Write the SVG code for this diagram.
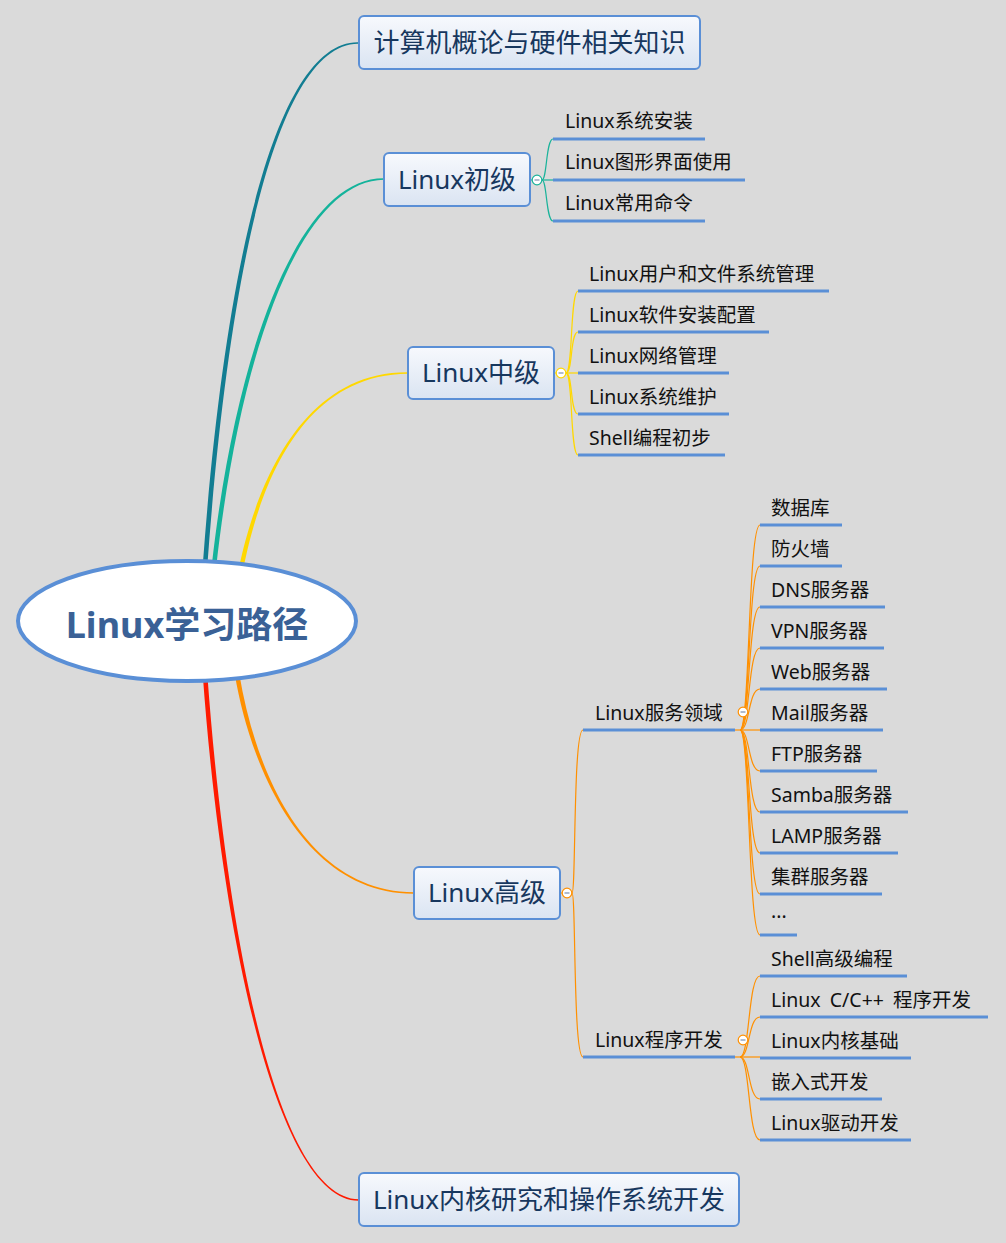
<svg xmlns="http://www.w3.org/2000/svg" width="1006" height="1243" viewBox="0 0 1006 1243">
<style>
.box{fill:url(#bg);stroke:#5a8fd6;stroke-width:2}
.bt{font-family:"Noto Sans","Noto Sans CJK SC",sans-serif;font-size:26px;fill:#17375e;text-anchor:middle}
.st{font-family:"Noto Sans","Noto Sans CJK SC",sans-serif;font-size:19.5px;fill:#111}
.ul{stroke:#5a8fd6;stroke-width:3;fill:none}
.c{fill:none;stroke-width:1.2}
.tl{stroke:#1ab39a}
.ye{stroke:#ffd800}
.or{stroke:#ff9000}
.tog{fill:#fff;stroke-width:1.2}
.mi{stroke:#7d8fae;stroke-width:1.2}
</style>
<defs>
<linearGradient id="bg" x1="0" y1="0" x2="0" y2="1">
<stop offset="0" stop-color="#f7f9fd"/>
<stop offset="1" stop-color="#dae4f2"/>
</linearGradient>
</defs>
<rect width="1006" height="1243" fill="#dadada"/>
<g id="connectors">
<path d="M202.7,566 C225.7,250 279,41.6 358,42.3 L358,43.7 C281,44.4 230.3,250 207.3,566 Z" fill="#127d92"/>
<path d="M211.7,566 C235.7,350 299,177.6 384,178.3 L384,179.7 C301,180.4 240.3,350 216.3,566 Z" fill="#14b39b"/>
<path d="M238.7,569 C253,500 295,371.6 408,372.3 L408,373.7 C295,374.4 257,500 243.3,569 Z" fill="#ffd800"/>
<path d="M234.7,674 C253,780 310,894.4 414,893.7 L414,892.3 C310,891.6 257,780 239.3,674 Z" fill="#ff9000"/>
<path d="M202.7,674 C222.7,950 280,1201.4 359,1200.7 L359,1199.3 C280,1198.6 227.3,950 207.3,674 Z" fill="#ff1a00"/>
<g class="c tl">
<path d="M530,180 H532"/>
<path d="M542,180 H553"/>
<path d="M542,180 C547,180 546,139 553,139"/>
<path d="M542,180 C547,180 546,221 553,221"/>
</g>
<g class="c ye">
<path d="M554,373 H556"/>
<path d="M566,373 H578"/>
<path d="M566,373 C573,373 570,291 578,291"/>
<path d="M566,373 C573,373 570,332 578,332"/>
<path d="M566,373 C573,373 570,414 578,414"/>
<path d="M566,373 C573,373 570,455 578,455"/>
</g>
<g class="c or">
<path d="M560,893 H562"/>
<path d="M572,893 C576,893 573,730 583,730"/>
<path d="M572,893 C576,893 573,1057 583,1057"/>
<path d="M735,730 H760"/>
<path d="M740,730 C750,730 748,525 760,525"/>
<path d="M740,730 C750,730 748,566 760,566"/>
<path d="M740,730 C750,730 748,607 760,607"/>
<path d="M740,730 C750,730 748,648 760,648"/>
<path d="M740,730 C750,730 748,689 760,689"/>
<path d="M740,730 C750,730 748,771 760,771"/>
<path d="M740,730 C750,730 748,812 760,812"/>
<path d="M740,730 C750,730 748,853 760,853"/>
<path d="M740,730 C750,730 748,894 760,894"/>
<path d="M740,730 C750,730 748,935 760,935"/>
<path d="M735,1057 H760"/>
<path d="M740,1057 C750,1057 748,976 760,976"/>
<path d="M740,1057 C750,1057 748,1017 760,1017"/>
<path d="M740,1057 C750,1057 748,1099 760,1099"/>
<path d="M740,1057 C750,1057 748,1140 760,1140"/>
</g>
</g>
<g id="root">
<ellipse cx="187" cy="621" rx="169" ry="60" fill="#fff" stroke="#5a8fd6" stroke-width="4"/>
<text x="187" y="638" text-anchor="middle" font-family="Noto Sans,Noto Sans CJK SC,sans-serif" font-size="36" font-weight="bold" fill="#3a6196">Linux学习路径</text>
</g>
<g id="n1">
<rect class="box" x="359" y="16" width="341" height="53" rx="5"/>
<text class="bt" x="529.5" y="52">计算机概论与硬件相关知识</text>
</g>
<g id="n2">
<rect class="box" x="384" y="153" width="146" height="53" rx="5"/>
<text class="bt" x="457" y="189">Linux初级</text>
<circle class="tog tl" cx="537" cy="180" r="4.8"/>
<line class="mi" x1="534.5" y1="180" x2="539.5" y2="180"/>
</g>
<g id="n2a"><text class="st" x="565" y="128">Linux系统安装</text><line class="ul" x1="553" y1="139" x2="705" y2="139"/></g>
<g id="n2b"><text class="st" x="565" y="169">Linux图形界面使用</text><line class="ul" x1="553" y1="180" x2="745" y2="180"/></g>
<g id="n2c"><text class="st" x="565" y="210">Linux常用命令</text><line class="ul" x1="553" y1="221" x2="705" y2="221"/></g>
<g id="n3">
<rect class="box" x="408" y="347" width="146" height="52" rx="5"/>
<text class="bt" x="481" y="382">Linux中级</text>
<circle class="tog ye" cx="561" cy="373" r="4.8"/>
<line class="mi" x1="558.5" y1="373" x2="563.5" y2="373"/>
</g>
<g id="n3a"><text class="st" x="589" y="281">Linux用户和文件系统管理</text><line class="ul" x1="578" y1="291" x2="829" y2="291"/></g>
<g id="n3b"><text class="st" x="589" y="322">Linux软件安装配置</text><line class="ul" x1="578" y1="332" x2="769" y2="332"/></g>
<g id="n3c"><text class="st" x="589" y="363">Linux网络管理</text><line class="ul" x1="578" y1="373" x2="729" y2="373"/></g>
<g id="n3d"><text class="st" x="589" y="404">Linux系统维护</text><line class="ul" x1="578" y1="414" x2="729" y2="414"/></g>
<g id="n3e"><text class="st" x="589" y="445">Shell编程初步</text><line class="ul" x1="578" y1="455" x2="725" y2="455"/></g>
<g id="n4">
<rect class="box" x="414" y="867" width="146" height="52" rx="5"/>
<text class="bt" x="487" y="902">Linux高级</text>
<circle class="tog or" cx="567" cy="893" r="4.8"/>
<line class="mi" x1="564.5" y1="893" x2="569.5" y2="893"/>
</g>
<g id="n4a">
<text class="st" x="595" y="720">Linux服务领域</text><line class="ul" x1="583" y1="730" x2="735" y2="730"/>
<circle class="tog or" cx="743" cy="712" r="4.8"/>
<line class="mi" x1="740.5" y1="712" x2="745.5" y2="712"/>
</g>
<g id="s1"><text class="st" x="771" y="515">数据库</text><line class="ul" x1="760" y1="525" x2="842" y2="525"/></g>
<g id="s2"><text class="st" x="771" y="556">防火墙</text><line class="ul" x1="760" y1="566" x2="842" y2="566"/></g>
<g id="s3"><text class="st" x="771" y="597">DNS服务器</text><line class="ul" x1="760" y1="607" x2="885" y2="607"/></g>
<g id="s4"><text class="st" x="771" y="638">VPN服务器</text><line class="ul" x1="760" y1="648" x2="884" y2="648"/></g>
<g id="s5"><text class="st" x="771" y="679">Web服务器</text><line class="ul" x1="760" y1="689" x2="887" y2="689"/></g>
<g id="s6"><text class="st" x="771" y="720">Mail服务器</text><line class="ul" x1="760" y1="730" x2="883" y2="730"/></g>
<g id="s7"><text class="st" x="771" y="761">FTP服务器</text><line class="ul" x1="760" y1="771" x2="877" y2="771"/></g>
<g id="s8"><text class="st" x="771" y="802">Samba服务器</text><line class="ul" x1="760" y1="812" x2="908" y2="812"/></g>
<g id="s9"><text class="st" x="771" y="843">LAMP服务器</text><line class="ul" x1="760" y1="853" x2="898" y2="853"/></g>
<g id="s10"><text class="st" x="771" y="884">集群服务器</text><line class="ul" x1="760" y1="894" x2="882" y2="894"/></g>
<g id="s11"><text class="st" x="771" y="918">...</text><line class="ul" x1="760" y1="935" x2="797" y2="935"/></g>
<g id="n4b">
<text class="st" x="595" y="1047">Linux程序开发</text><line class="ul" x1="583" y1="1057" x2="735" y2="1057"/>
<circle class="tog or" cx="743" cy="1040" r="4.8"/>
<line class="mi" x1="740.5" y1="1040" x2="745.5" y2="1040"/>
</g>
<g id="p1"><text class="st" x="771" y="966">Shell高级编程</text><line class="ul" x1="760" y1="976" x2="907" y2="976"/></g>
<g id="p2"><text class="st" x="771" y="1007" word-spacing="4">Linux C/C++ 程序开发</text><line class="ul" x1="760" y1="1017" x2="988" y2="1017"/></g>
<g id="p3"><text class="st" x="771" y="1048">Linux内核基础</text><line class="ul" x1="760" y1="1058" x2="911" y2="1058"/></g>
<g id="p4"><text class="st" x="771" y="1089">嵌入式开发</text><line class="ul" x1="760" y1="1099" x2="882" y2="1099"/></g>
<g id="p5"><text class="st" x="771" y="1130">Linux驱动开发</text><line class="ul" x1="760" y1="1140" x2="911" y2="1140"/></g>
<g id="n5">
<rect class="box" x="359" y="1173" width="380" height="53" rx="5"/>
<text class="bt" x="549" y="1209">Linux内核研究和操作系统开发</text>
</g>
</svg>
